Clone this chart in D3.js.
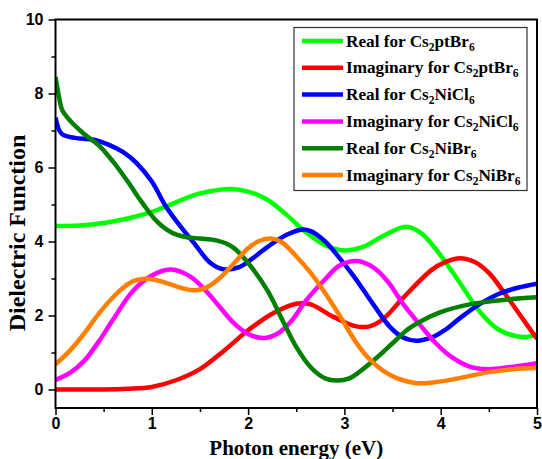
<!DOCTYPE html>
<html><head><meta charset="utf-8">
<script src="https://cdn.jsdelivr.net/npm/d3@7"></script>
<style>body{margin:0;background:#fff}svg{display:block}</style>
</head><body>
<svg id="c" width="542" height="459"></svg>
<script>
const realPtBr = [[0,4.42],[0.25,4.43],[0.5,4.5],[0.75,4.62],[1.0,4.8],[1.25,5.06],[1.5,5.3],[1.83,5.42],[2.0,5.35],[2.2,5.13],[2.4,4.72],[2.6,4.25],[2.8,3.9],[3.0,3.76],[3.2,3.86],[3.4,4.15],[3.64,4.4],[3.8,4.22],[4.0,3.62],[4.2,2.88],[4.4,2.12],[4.6,1.62],[4.86,1.42],[5.0,1.5]];
const imagPtBr = [[0,0],[0.5,0],[0.75,0.02],[1.0,0.07],[1.25,0.25],[1.5,0.55],[1.75,1.05],[2.0,1.6],[2.25,2.05],[2.5,2.32],[2.65,2.3],[2.88,1.97],[3.1,1.72],[3.25,1.7],[3.4,1.9],[3.6,2.45],[3.9,3.22],[4.05,3.45],[4.2,3.55],[4.35,3.45],[4.5,3.15],[4.65,2.65],[4.8,2.1],[5.0,1.37]];
const realNiCl = [[0,7.35],[0.04,7.0],[0.08,6.88],[0.2,6.8],[0.4,6.75],[0.55,6.62],[0.7,6.42],[0.85,6.1],[1.0,5.62],[1.15,4.93],[1.3,4.4],[1.45,3.92],[1.6,3.44],[1.74,3.25],[1.9,3.3],[2.05,3.55],[2.2,3.85],[2.4,4.18],[2.55,4.32],[2.65,4.28],[2.8,4.0],[2.95,3.55],[3.1,3.05],[3.3,2.3],[3.47,1.7],[3.6,1.42],[3.75,1.32],[3.9,1.4],[4.05,1.62],[4.2,1.93],[4.4,2.3],[4.6,2.58],[4.8,2.75],[5.0,2.86]];
const imagNiCl = [[0,0.26],[0.15,0.45],[0.3,0.78],[0.45,1.3],[0.6,1.9],[0.8,2.65],[1.0,3.08],[1.2,3.24],[1.4,3.05],[1.55,2.7],[1.7,2.25],[1.85,1.8],[2.0,1.5],[2.16,1.39],[2.3,1.5],[2.45,1.85],[2.6,2.4],[2.8,2.98],[2.95,3.35],[3.13,3.47],[3.3,3.3],[3.45,2.92],[3.6,2.35],[3.8,1.7],[3.95,1.25],[4.1,0.9],[4.3,0.62],[4.5,0.55],[4.7,0.6],[5.0,0.71]];
const realNiBr = [[0,8.45],[0.03,8.0],[0.07,7.55],[0.15,7.27],[0.3,6.9],[0.45,6.6],[0.6,6.15],[0.75,5.62],[0.9,5.05],[1.05,4.55],[1.2,4.25],[1.35,4.12],[1.5,4.08],[1.67,4.03],[1.84,3.85],[2.0,3.42],[2.2,2.68],[2.36,1.86],[2.5,1.15],[2.65,0.6],[2.8,0.3],[2.92,0.24],[3.05,0.3],[3.3,0.78],[3.5,1.25],[3.64,1.59],[3.8,1.85],[4.0,2.09],[4.3,2.3],[4.65,2.42],[5.0,2.49]];
const imagNiBr = [[0,0.68],[0.15,1.05],[0.3,1.52],[0.45,2.05],[0.6,2.5],[0.77,2.88],[0.93,2.99],[1.1,2.92],[1.3,2.75],[1.45,2.68],[1.57,2.76],[1.7,3.0],[1.85,3.4],[2.0,3.82],[2.12,4.02],[2.24,4.08],[2.35,3.98],[2.5,3.6],[2.65,3.15],[2.78,2.68],[2.95,2.0],[3.13,1.24],[3.25,0.85],[3.4,0.51],[3.55,0.3],[3.75,0.17],[3.95,0.2],[4.16,0.29],[4.5,0.47],[4.75,0.55],[5.0,0.58]];

const seriesNames = ["Real for Cs|2|ptBr|6","Imaginary for Cs|2|ptBr|6","Real for Cs|2|NiCl|6","Imaginary for Cs|2|NiCl|6","Real for Cs|2|NiBr|6","Imaginary for Cs|2|NiBr|6"];
const seriesData = [realPtBr, imagPtBr, realNiCl, imagNiCl, realNiBr, imagNiBr];
const seriesColors = ["#00ff00","#ff0000","#0000ff","#ff00ff","#007f00","#ff8000"];
const xTicks = [0,1,2,3,4,5];
const yTicks = [0,2,4,6,8,10];
const xLabel = "Photon energy (eV)";
const yLabel = "Dielectric Function";

const svg = d3.select("#c");
const L=55.5, R=537, T=19.5, B=408;
const x = d3.scaleLinear().domain([0,5]).range([L,R]);
const y = d3.scaleLinear().domain([-0.5,10]).range([B,T]);

svg.append("clipPath").attr("id","clip").append("rect").attr("x",L).attr("y",T).attr("width",R-L).attr("height",B-T);

const line = d3.line().x(d=>x(d[0])).y(d=>y(d[1])).curve(d3.curveCatmullRom.alpha(0.5));
const g = svg.append("g").attr("clip-path","url(#clip)");
seriesData.forEach((s,i)=>{
  g.append("path").attr("d",line(s)).attr("fill","none").attr("stroke",seriesColors[i]).attr("stroke-width",4.5).attr("stroke-linejoin","round");
});

// axes
const tickFont = "bold 16px 'Liberation Sans', Arial, sans-serif";
const xAx = svg.append("g").attr("transform",`translate(0,${B})`)
  .call(d3.axisBottom(x).tickValues(xTicks).tickFormat(d3.format("d")).tickSize(7).tickPadding(3));
const xMinor = svg.append("g").attr("transform",`translate(0,${B})`)
  .call(d3.axisBottom(x).tickValues(d3.range(0.5,5,1)).tickFormat("").tickSize(4));
const yAx = svg.append("g").attr("transform",`translate(${L},0)`)
  .call(d3.axisLeft(y).tickValues(yTicks).tickFormat(d3.format("d")).tickSize(7).tickPadding(5));
const yMinor = svg.append("g").attr("transform",`translate(${L},0)`)
  .call(d3.axisLeft(y).tickValues(d3.range(1,10,2)).tickFormat("").tickSize(4));
[xAx,xMinor,yAx,yMinor].forEach(a=>{
  a.select(".domain").remove();
  a.selectAll(".tick line").attr("stroke","#000").attr("stroke-width",1.5);
  a.selectAll("text").style("font",tickFont).attr("fill","#000");
});
// frame
svg.append("rect").attr("x",L).attr("y",T).attr("width",R-L).attr("height",B-T)
  .attr("fill","none").attr("stroke","#000").attr("stroke-width",2);

// titles
svg.append("text").attr("x",(L+R)/2).attr("y",455).attr("text-anchor","middle")
  .style("font","bold 21px 'Liberation Serif', 'Times New Roman', serif").text(xLabel);
svg.append("text").attr("transform",`translate(25,${233}) rotate(-90)`).attr("text-anchor","middle")
  .style("font","bold 24px 'Liberation Serif', 'Times New Roman', serif").text(yLabel);

// legend
const lg = svg.append("g");
lg.append("rect").attr("x",294).attr("y",27.5).attr("width",233).attr("height",163)
  .attr("fill","#fff").attr("stroke","#333").attr("stroke-width",1.2);
const legFont = "bold 17.2px 'Liberation Serif', 'Times New Roman', serif";
seriesNames.forEach((n,i)=>{
  const yy = 41 + i*26.8;
  lg.append("line").attr("x1",302).attr("x2",343).attr("y1",yy).attr("y2",yy)
    .attr("stroke",seriesColors[i]).attr("stroke-width",4.5);
  const parts = n.split("|");
  const t = lg.append("text").attr("x",346).attr("y",yy+5.5).style("font",legFont);
  parts.forEach((p,k)=>{
    if(k%2===0){ t.append("tspan").attr("dy", k===0?0:-4).text(p); }
    else { t.append("tspan").attr("dy",4).style("font-size","11.5px").text(p); }
  });
});
</script>
</body></html>
